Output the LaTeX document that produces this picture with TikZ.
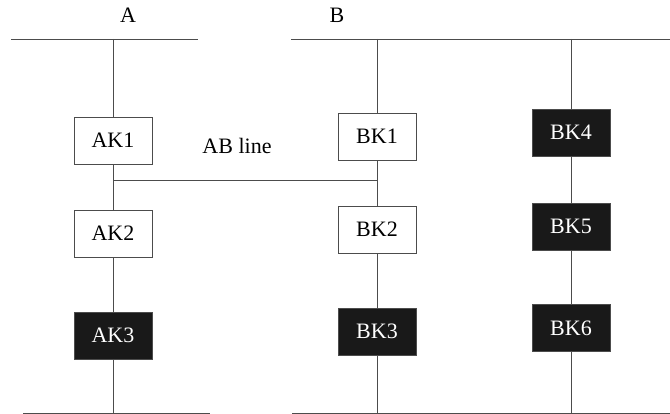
\documentclass[tikz,border=0pt]{standalone}
\usepackage{fontspec}
\setmainfont{Liberation Serif}
\usepackage{tikz}

\tikzset{
  wire/.style={draw=black!70, line width=0.9pt},
  kswitch/.style={draw=black!70, line width=0.9pt, fill=white, minimum width=78pt, minimum height=47pt, inner sep=0pt, font=\fontsize{22}{26}\selectfont},
  kclosed/.style={kswitch, fill=black!90, text=white},
  busname/.style={font=\fontsize{22}{26}\selectfont}
}

\begin{document}
\begin{tikzpicture}[x=1pt, y=-1pt]
\useasboundingbox (0,0) rectangle (670,414);
% bus ends
\coordinate (atl) at (11,39);
\coordinate (atr) at (198,39);
\coordinate (btl) at (291,39);
\coordinate (btr) at (670,39);
\coordinate (abl) at (23,413);
\coordinate (abr) at (210,413);
\coordinate (bbl) at (292,413);
\coordinate (bbr) at (670,413);
\coordinate (atop) at (113,39);
\coordinate (abot) at (113,413);
\coordinate (btop) at (377,39);
\coordinate (bbot) at (377,413);
\coordinate (ctop) at (571,39);
\coordinate (cbot) at (571,413);
\coordinate (abja) at (113,180);
\coordinate (abjb) at (377,180);
\node[busname] (lblA) at (128,15) {A};
\node[busname] (lblB) at (337,15) {B};
\node[busname] (lblAB) at (237,146) {AB line};
% switches
\node[kswitch] (AK1) at (113,140.5) {AK1};
\node[kswitch] (AK2) at (113,233.5) {AK2};
\node[kclosed] (AK3) at (113,335.5) {AK3};
\node[kswitch] (BK1) at (377,136.5) {BK1};
\node[kswitch] (BK2) at (377,229.5) {BK2};
\node[kclosed] (BK3) at (377,331.5) {BK3};
\node[kclosed] (BK4) at (571,132.5) {BK4};
\node[kclosed] (BK5) at (571,226.5) {BK5};
\node[kclosed] (BK6) at (571,328) {BK6};
% buses
\draw[wire] (atl) -- (atr);
\draw[wire] (btl) -- (btr);
\draw[wire] (abl) -- (abr);
\draw[wire] (bbl) -- (bbr);
% feeders
\draw[wire] (atop) -- (AK1) (AK1) -- (AK2) (AK2) -- (AK3) (AK3) -- (abot);
\draw[wire] (btop) -- (BK1) (BK1) -- (BK2) (BK2) -- (BK3) (BK3) -- (bbot);
\draw[wire] (ctop) -- (BK4) (BK4) -- (BK5) (BK5) -- (BK6) (BK6) -- (cbot);
\draw[wire] (abja) -- (abjb);
\end{tikzpicture}
\end{document}
